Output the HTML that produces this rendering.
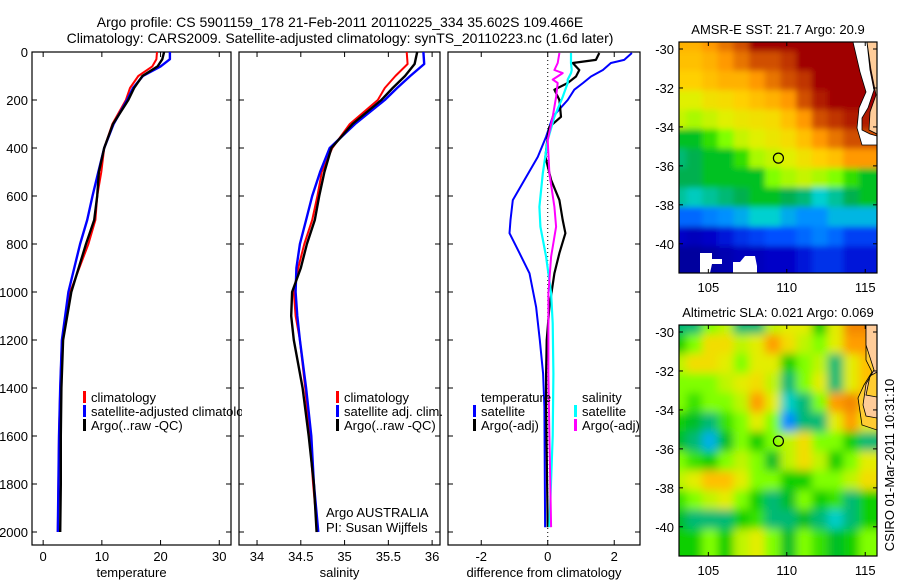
<!DOCTYPE html>
<html><head><meta charset="utf-8">
<style>
html,body{margin:0;padding:0;background:#fff;}
svg{display:block;font-family:"Liberation Sans",sans-serif;}
</style></head>
<body>
<svg id="fig" width="900" height="580" viewBox="0 0 900 580" xmlns="http://www.w3.org/2000/svg">
<text x="340" y="27" font-size="14" text-anchor="middle">Argo profile: CS 5901159_178 21-Feb-2011 20110225_334 35.602S 109.466E</text>
<text x="340" y="43" font-size="14" text-anchor="middle">Climatology: CARS2009. Satellite-adjusted climatology: synTS_20110223.nc (1.6d later)</text>
<g id="g"></g>
<text x="894" y="465" font-size="13" text-anchor="middle" transform="rotate(-90 894 465)">CSIRO 01-Mar-2011 10:31:10</text>
</svg>
<script>
// ---- profile data ----
const tDepth = [0,30,60,100,150,200,300,400,500,600,700,800,1000,1200,1400,1600,1800,2000];
const tClim  = [19.4,19.3,18.6,16.2,14.8,14.1,11.8,10.4,9.9,9.2,8.9,7.7,4.6,3.2,2.9,2.7,2.6,2.5];
const tSat   = [21.6,21.6,20.0,17.0,15.3,14.3,12.0,10.4,9.4,8.4,7.5,6.3,4.3,3.2,2.9,2.7,2.6,2.5];
const tArgo  = [20.6,20.3,19.5,16.9,15.5,14.5,11.9,10.4,9.5,9.2,8.7,7.3,4.8,3.4,3.1,3.0,3.0,2.9];
const sDepth = [0,50,100,150,200,300,400,500,600,700,800,900,1000,1100,1200,1400,1600,1800,2000];
const sClim  = [35.71,35.72,35.58,35.46,35.38,35.06,34.86,34.74,34.69,34.63,34.54,34.47,34.42,34.44,34.49,34.55,34.60,34.64,34.69];
const sSat   = [35.90,35.91,35.75,35.60,35.46,35.12,34.83,34.72,34.63,34.56,34.49,34.45,34.44,34.46,34.49,34.56,34.62,34.65,34.70];
const sArgo  = [35.83,35.80,35.69,35.55,35.42,35.09,34.85,34.77,34.71,34.66,34.57,34.50,34.40,34.39,34.42,34.52,34.59,34.65,34.68];
const dDepthT = [4,33,46,75,102,129,157,200,270,312,353,437,533,617,700,755,838,922,1062,1200,1340,1478,1980];
const dTSat   = [2.53,2.3,1.9,1.66,1.3,1.06,0.8,0.6,0.15,0.05,-0.05,-0.3,-0.7,-1.05,-1.12,-1.15,-0.85,-0.55,-0.35,-0.24,-0.14,-0.1,-0.08];
const dTArgo  = [1.55,1.45,0.75,0.95,0.85,0.6,0.2,0.35,0.4,0.05,0.0,-0.07,0.1,0.35,0.45,0.53,0.35,0.2,0.05,-0.03,-0.05,-0.05,0.0];
const dDepthS = [4,46,75,88,115,129,187,270,367,506,645,728,853,1006,1130,1340,1600,1980];
const dSSat   = [0.7,0.7,0.72,0.7,0.6,0.6,0.45,0.2,0.0,-0.15,-0.25,-0.22,-0.05,0.1,0.15,0.17,0.15,0.05];
const dSArgo  = [0.35,0.3,0.2,0.45,0.15,0.3,0.25,0.15,0.0,0.05,0.2,0.25,0.1,0.02,0.02,0.02,0.05,0.1];
const depthTicks = [0,200,400,600,800,1000,1200,1400,1600,1800,2000];
const tTicks = [0,10,20,30];
const sTicks = [34,34.5,35,35.5,36];
const dTicks = [-2,0,2];
// ---- map data (colour index 0..1, null = no data) ----
const sstGrid = [
[0.72,0.72,0.75,0.8,0.85,1,1,1,1,1,1,1,1],
[0.7,0.7,0.72,0.75,0.8,0.85,0.85,0.9,1,1,1,1,1],
[0.68,0.68,0.7,0.72,0.72,0.75,0.8,0.85,0.9,1,1,1,1],
[0.62,0.62,0.65,0.66,0.68,0.7,0.72,0.75,0.85,0.95,1,1,1],
[0.6,0.58,0.6,0.62,0.64,0.65,0.66,0.7,0.75,0.85,0.9,0.95,0.95],
[0.45,0.45,0.5,0.55,0.6,0.62,0.64,0.66,0.7,0.75,0.8,0.85,0.85],
[0.4,0.42,0.45,0.45,0.5,0.58,0.6,0.62,0.65,0.68,0.7,0.75,0.75],
[0.42,0.42,0.45,0.45,0.45,0.45,0.55,0.58,0.6,0.58,0.55,0.5,0.45],
[0.38,0.36,0.38,0.4,0.42,0.45,0.45,0.42,0.4,0.35,0.38,0.42,0.45],
[0.25,0.25,0.28,0.3,0.32,0.35,0.35,0.32,0.3,0.3,0.33,0.33,0.33],
[0.12,0.1,0.12,0.15,0.18,0.2,0.22,0.22,0.25,0.28,0.25,0.2,0.2],
[0.05,0.05,0.06,0.08,0.1,0.1,0.12,0.12,0.15,0.18,0.18,0.15,0.15]];
const slaGrid = [
[0.45,0.45,0.55,0.58,0.45,0.45,0.58,0.6,0.6,0.5,0.6,0.7,0.7],
[0.5,0.55,0.62,0.62,0.58,0.6,0.68,0.62,0.58,0.55,0.6,0.68,0.68],
[0.58,0.62,0.62,0.6,0.55,0.6,0.6,0.5,0.55,0.58,0.45,0.6,0.65],
[0.55,0.55,0.55,0.58,0.6,0.62,0.58,0.45,0.55,0.6,0.45,0.6,0.65],
[0.55,0.52,0.55,0.55,0.58,0.68,0.6,0.42,0.45,0.55,0.68,0.7,0.65],
[0.5,0.48,0.45,0.52,0.55,0.6,0.55,0.38,0.45,0.45,0.6,0.68,0.6],
[0.48,0.45,0.4,0.48,0.55,0.5,0.55,0.58,0.62,0.55,0.55,0.5,0.45],
[0.55,0.52,0.5,0.55,0.58,0.55,0.48,0.58,0.62,0.58,0.5,0.55,0.6],
[0.58,0.6,0.65,0.65,0.6,0.55,0.55,0.5,0.5,0.55,0.55,0.58,0.62],
[0.52,0.55,0.58,0.6,0.55,0.5,0.45,0.48,0.55,0.5,0.52,0.45,0.5],
[0.48,0.45,0.45,0.45,0.5,0.52,0.45,0.45,0.48,0.45,0.42,0.45,0.5],
[0.5,0.5,0.55,0.5,0.58,0.6,0.55,0.48,0.55,0.52,0.48,0.5,0.55]];
const lonTicks = [105,110,115];
const latTicks = [-30,-32,-34,-36,-38,-40];
const argoLon = 109.466, argoLat = -35.602;

const NS="http://www.w3.org/2000/svg";
const G=document.getElementById('g');
function mk(tag,attrs,parent){const e=document.createElementNS(NS,tag);for(const k in attrs)e.setAttribute(k,attrs[k]);(parent||G).appendChild(e);return e;}
function txt(x,y,s,size,anchor,parent){const e=mk('text',{x:x,y:y,'font-size':size,'text-anchor':anchor||'start'},parent);e.textContent=s;return e;}

const defs=mk('defs',{});
const top0=52, bot0=545;
const yD = d => top0 + 0.24*d;
const panels = [
 {name:'temperature-panel', x0:32, x1:231, lo:-1.9, hi:32, ticks:tTicks, label:'temperature'},
 {name:'salinity-panel', x0:239, x1:440, lo:33.794, hi:36.09, ticks:sTicks, label:'salinity'},
 {name:'difference-panel', x0:448, x1:640, lo:-3.0, hi:2.775, ticks:dTicks, label:'difference from climatology'}
];
panels.forEach((p,i)=>{
  p.sx = v => p.x0 + (v-p.lo)/(p.hi-p.lo)*(p.x1-p.x0);
  const g=mk('g',{});
  
  
  mk('rect',{x:p.x0,y:top0,width:p.x1-p.x0,height:bot0-top0,fill:'none',stroke:'#000','stroke-width':1.2},g);
  depthTicks.forEach(d=>{
    mk('line',{x1:p.x0,x2:p.x0+5,y1:yD(d),y2:yD(d),stroke:'#000'},g);
    mk('line',{x1:p.x1,x2:p.x1-5,y1:yD(d),y2:yD(d),stroke:'#000'},g);
    if(i===0){const t=txt(28,yD(d)+5,String(d),13,'end',g);}
  });
  p.ticks.forEach(v=>{
    const x=p.sx(v);
    mk('line',{x1:x,x2:x,y1:top0,y2:top0+5,stroke:'#000'},g);
    mk('line',{x1:x,x2:x,y1:bot0,y2:bot0-5,stroke:'#000'},g);
    const t=txt(x,561,String(v),13,'middle',g);
    
    
  });
  const at=txt((p.x0+p.x1)/2,577,p.label,13,'middle',g);
  
  
});
function line(p,depths,vals,color,w,name){
  const pts=depths.map((d,k)=>p.sx(vals[k]).toFixed(1)+','+yD(d).toFixed(1)).join(' ');
  const e=mk('polyline',{points:pts,fill:'none',stroke:color,'stroke-width':w,'stroke-linejoin':'round'});
  
  
}
const P0=panels[0],P1=panels[1],P2=panels[2];
line(P0,tDepth,tClim,'#ff0000',2,'temperature-climatology-line');
line(P0,tDepth,tSat,'#0000ff',2.4,'temperature-satellite-line');
line(P0,tDepth,tArgo,'#000000',2.4,'temperature-argo-line');
line(P1,sDepth,sClim,'#ff0000',2,'salinity-climatology-line');
line(P1,sDepth,sSat,'#0000ff',2.4,'salinity-satellite-line');
line(P1,sDepth,sArgo,'#000000',2.4,'salinity-argo-line');
const zl=mk('line',{x1:P2.sx(0),x2:P2.sx(0),y1:top0,y2:bot0,stroke:'#000','stroke-dasharray':'1,3'});


line(P2,dDepthT,dTSat,'#0000ff',2,'temp-diff-satellite-line');
line(P2,dDepthT,dTArgo,'#000000',2.2,'temp-diff-argo-line');
line(P2,dDepthS,dSSat,'#00ffff',2.2,'sal-diff-satellite-line');
line(P2,dDepthS,dSArgo,'#ff00ff',2,'sal-diff-argo-line');

const lc=mk('clipPath',{id:'legclip'},defs); mk('rect',{x:0,y:0,width:242,height:580},lc);
function legend(x,y,items,name,clip){
  const g=mk('g',clip?{'clip-path':'url(#legclip)'}:{});
  
  
  items.forEach((it,k)=>{
    const yy=y+k*14;
    if(it[0]) mk('rect',{x:x,y:yy-6,width:3,height:12,fill:it[0]},g);
    txt(x+8,yy+5,it[1],13,'start',g);
  });
}
legend(83,397,[['#ff0000','climatology'],['#0000ff','satellite-adjusted climatology'],['#000000','Argo(..raw -QC)']],'temperature-legend',true);
legend(336,397,[['#ff0000','climatology'],['#0000ff','satellite adj. clim.'],['#000000','Argo(..raw -QC)']],'salinity-legend');
legend(473,397,[[null,'temperature'],['#0000ff','satellite'],['#000000','Argo(-adj)']],'diff-temperature-legend');
legend(574,397,[[null,'salinity'],['#00ffff','satellite'],['#ff00ff','Argo(-adj)']],'diff-salinity-legend');
const a1=txt(326,517,'Argo AUSTRALIA',13,'start');  
const a2=txt(326,532,'PI: Susan Wijffels',13,'start');  

// ---- maps ----
const stops=[[0,'#000080'],[0.12,'#0000c8'],[0.22,'#0050ff'],[0.3,'#0090ff'],[0.35,'#00d0d0'],[0.42,'#00b050'],[0.47,'#00cc00'],[0.55,'#80ff00'],[0.62,'#e0f000'],[0.68,'#ffd000'],[0.75,'#ff9900'],[0.85,'#d05000'],[1,'#a00000']];
function hx(c){return [1,3,5].map(i=>parseInt(c.substr(i,2),16));}
function cmap(v){
  v=Math.max(0,Math.min(1,v));
  for(let i=1;i<stops.length;i++){ if(v<=stops[i][0]){const a=stops[i-1],b=stops[i];const t=(v-a[0])/(b[0]-a[0]);const ca=hx(a[1]),cb=hx(b[1]);return 'rgb('+ca.map((c,k)=>Math.round(c+(cb[k]-c)*t)).join(',')+')';}}
  return stops[stops.length-1][1];
}
const f=mk('filter',{id:'blur',x:'-5%',y:'-5%',width:'110%',height:'110%'},defs);
mk('feGaussianBlur',{stdDeviation:3},f);
const f2=mk('filter',{id:'blur2',x:'-5%',y:'-5%',width:'110%',height:'110%'},defs);
mk('feGaussianBlur',{stdDeviation:4.5},f2);
function map(top,grid,title,name,filt,gain){
  const x0=679,x1=877,y0=top,y1=top+231;
  const lon0=103.13,lon1=115.75,latT=-29.64,latB=-41.5;
  const sx=v=>x0+(v-lon0)/(lon1-lon0)*(x1-x0);
  const sy=v=>y0+(latT-v)/(latT-latB)*(y1-y0);
  const g=mk('g',{});
  
  
  const cid='clip'+top;
  const cp=mk('clipPath',{id:cid},defs); mk('rect',{x:x0,y:y0,width:x1-x0,height:y1-y0},cp);
  const cg=mk('g',{'clip-path':'url(#'+cid+')'},g);
  mk('rect',{x:x0,y:y0,width:x1-x0,height:y1-y0,fill:'#fff'},cg);
  const hg=mk('g',{filter:'url(#'+filt+')'},cg);
  const cw=sx(1)-sx(0), ch=sy(-1)-sy(0);
  grid.forEach((row,r)=>row.forEach((v,c)=>{
    if(v===null) return;
    let x=sx(lon0+c-0.5)-0.5, y=sy(latT-r+0.5)-0.5, w=cw+1, h=ch+1;
    if(c===0){x-=20;w+=20;} if(c===row.length-1){w+=20;}
    if(r===0){y-=20;h+=20;} if(r===grid.length-1){h+=20;}
    const cell=mk('rect',{x:x,y:y,width:w,height:h,fill:cmap(0.55+(v-0.55)*gain)},hg);
    
    
  }));
  mk('rect',{x:x0,y:y0,width:x1-x0,height:y1-y0,fill:'none',stroke:'#000','stroke-width':1.2},g);
  lonTicks.forEach(v=>{const x=sx(v);mk('line',{x1:x,x2:x,y1:y0,y2:y0+4,stroke:'#000'},g);mk('line',{x1:x,x2:x,y1:y1,y2:y1-4,stroke:'#000'},g);
    const t=txt(x,y1+19,String(v),13,'middle',g);});
  latTicks.forEach(v=>{const y=sy(v);mk('line',{x1:x0,x2:x0+4,y1:y,y2:y,stroke:'#000'},g);mk('line',{x1:x1,x2:x1-4,y1:y,y2:y,stroke:'#000'},g);
    const t=txt(674,y+5,String(v),13,'end',g);});
  const tt=txt(778,y0-8,title,13,'middle',g);
  
  
  return {g:g,cg:cg,sx:sx,sy:sy};
}
const m1=map(42,sstGrid,'AMSR-E SST: 21.7 Argo: 20.9','sst-map','blur',1);
const n1=mk('polygon',{points:'700,253 712,253 712,259 722,259 722,264 712,264 710,273 700,273',fill:'#fff'},m1.cg);
 
const n2=mk('polygon',{points:'733,273 733,262 740,262 745,256 755,256 757,266 757,273',fill:'#fff'},m1.cg);
 
const w1=mk('polygon',{points:'853,42 867,42 870,70 874,90 868,108 862,118 862,130 870,134 877,136 877,145 862,145 857,128 859,108 866,92 860,72',fill:'#fff',stroke:'#000','stroke-width':0.8},m1.cg);
 
const l1=mk('polygon',{points:'867,42 877,42 877,134 869,130 870,112 876,95 871,70',fill:'#ffcc99',stroke:'#000','stroke-width':0.8},m1.cg);
 
const c1=mk('circle',{cx:m1.sx(argoLon),cy:m1.sy(argoLat),r:5,fill:'none',stroke:'#000','stroke-width':1.2},m1.g);
 

const m2=map(325,slaGrid,'Altimetric SLA: 0.021 Argo: 0.069','sla-map','blur2',1.5);
const k2=mk('polygon',{points:'858,325 866,325 866,360 872,372 864,385 858,398 862,425 877,430 877,325',fill:'#ffcc33',stroke:'#000','stroke-width':0.8},m2.cg);
 
const l2=mk('polygon',{points:'866,325 877,325 877,372 870,376 866,395 877,397 877,418 866,416 863,405 866,384 874,370 866,345',fill:'#ffcc99',stroke:'#000','stroke-width':0.8},m2.cg);
 
const c2=mk('circle',{cx:m2.sx(argoLon),cy:m2.sy(argoLat),r:5,fill:'none',stroke:'#000','stroke-width':1.2},m2.g);
 
</script>
</body></html>
